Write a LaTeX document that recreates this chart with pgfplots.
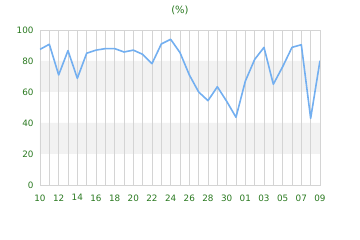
\documentclass[border=0pt]{standalone}
\usepackage{fontspec}
\setmainfont{DejaVu Sans}
\usepackage{pgfplots}
\pgfplotsset{compat=1.18}
\definecolor{tgreen}{RGB}{40,120,30}
\definecolor{gridc}{RGB}{212,212,212}
\definecolor{bandc}{RGB}{242,242,242}
\definecolor{linec}{RGB}{115,175,240}
\begin{document}
\begin{tikzpicture}
\begin{axis}[
  at={(0pt,0pt)}, anchor=south west,
  set layers,
  scale only axis, width=280pt, height=155pt,
  xmin=0, xmax=30, ymin=0, ymax=100,
  xtick={0,...,30},
  xticklabels={10,,12,,14,,16,,18,,20,,22,,24,,26,,28,,30,,01,,03,,05,,07,,09},
  ytick={0,20,40,60,80,100},
  major tick length=0pt,
  xmajorgrids, ymajorgrids=false,
  grid style={gridc, line width=0.8pt},
  axis line style={gridc, line width=0.8pt},
  tick label style={font=\fontsize{8.8}{10}\selectfont, text=tgreen},
  /pgf/number format/assume math mode=true,
  xticklabel style={yshift=-6pt},
  yticklabel style={xshift=-3pt},
  title={(\%)}, title style={font=\fontsize{10}{11}\selectfont, text=tgreen, yshift=6pt},
]
\addplot[on layer=axis background, draw=none, fill=bandc] coordinates {(0,20) (30,20) (30,40) (0,40) (0,20)};
\addplot[on layer=axis background, draw=none, fill=bandc] coordinates {(0,60) (30,60) (30,80) (0,80) (0,60)};
\addplot[linec, line width=1.6pt, line join=round, mark=none] coordinates {
(0,87.5) (1,90.8) (2,71) (3,86.7) (4,68.8) (5,85) (6,87) (7,88) (8,88) (9,85.8)
(10,87) (11,84.3) (12,78.3) (13,91) (14,94) (15,85.4) (16,71) (17,60) (18,54.4) (19,63.4)
(20,54) (21,43.7) (22,67) (23,81) (24,88.8) (25,65) (26,76.3) (27,88.8) (28,90.5) (29,43) (30,80.2)
};
\end{axis}
\useasboundingbox (-40pt,-55pt) rectangle (320pt,185pt);
\end{tikzpicture}
\end{document}
